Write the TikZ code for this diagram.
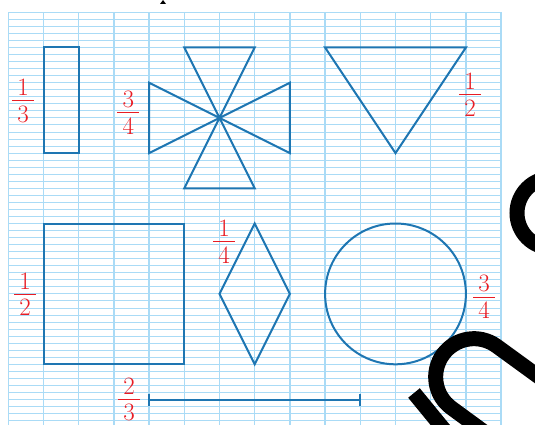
\documentclass[tikz,border=0pt]{standalone}
\definecolor{gridc}{RGB}{170,219,246}
\definecolor{shapec}{RGB}{30,118,178}
\definecolor{labc}{RGB}{232,28,36}
\newcommand\myfr[2]{\vbox{\offinterlineskip\halign{\hfil##\hfil\cr #1\cr\noalign{\vskip4.5pt}\vrule width 22pt height 1pt\cr\noalign{\vskip4.5pt} #2\cr}}}
\begin{document}
\begin{tikzpicture}[x=1pt,y=-1pt,
  shp/.style={draw=shapec, line width=2pt, line join=miter},
  fraclab/.style={text=labc, inner sep=0pt, font=\fontsize{25}{30}\selectfont},
  gridv/.style={draw=gridc, line width=1.3pt},
  gridh/.style={draw=gridc, line width=0.9pt},
  wm/.style={draw=black, line width=15pt}]
\useasboundingbox (0,0) rectangle (535,425);
\fill[white] (0,0) rectangle (535,425);
\def\xo{8.3}\def\yo{12.3}\def\u{35.2}
% grid
\foreach \j in {0,...,58} \draw[gridh] (\xo,\yo+\j*\u/5) -- (\xo+14*\u,\yo+\j*\u/5);
\foreach \k in {0,...,14} \draw[gridv] (\xo+\k*\u,\yo) -- (\xo+\k*\u,425);
% rectangle 1/3
\draw[shp] (\xo+\u,\yo+\u) rectangle (\xo+2*\u,\yo+4*\u);
\node[fraclab] (l13) at (23,100.7) {\myfr{1}{3}};
% star of triangles
\coordinate (sc) at (\xo+6*\u,\yo+3*\u);
\draw[shp] (sc) -- (\xo+5*\u,\yo+\u) -- (\xo+7*\u,\yo+\u) -- cycle;
\draw[shp] (sc) -- (\xo+5*\u,\yo+5*\u) -- (\xo+7*\u,\yo+5*\u) -- cycle;
\draw[shp] (sc) -- (\xo+4*\u,\yo+2*\u) -- (\xo+4*\u,\yo+4*\u) -- cycle;
\draw[shp] (sc) -- (\xo+8*\u,\yo+2*\u) -- (\xo+8*\u,\yo+4*\u) -- cycle;
\node[fraclab] (l34a) at (128.3,112.7) {\myfr{3}{4}};
% inverted triangle
\draw[shp] (\xo+9*\u,\yo+\u) -- (\xo+13*\u,\yo+\u) -- (\xo+11*\u,\yo+4*\u) -- cycle;
\node[fraclab] (l12a) at (470,95) {\myfr{1}{2}};
% square
\draw[shp] (\xo+\u,\yo+6*\u) rectangle (\xo+5*\u,\yo+10*\u);
\node[fraclab] (l12b) at (25,294) {\myfr{1}{2}};
% diamond
\draw[shp] (\xo+7*\u,\yo+6*\u) -- (\xo+8*\u,\yo+8*\u) -- (\xo+7*\u,\yo+10*\u) -- (\xo+6*\u,\yo+8*\u) -- cycle;
\node[fraclab] (l14) at (224,242) {\myfr{1}{4}};
% circle
\draw[shp] (\xo+11*\u,\yo+8*\u) circle[radius=2*\u];
\node[fraclab] (l34b) at (484,297) {\myfr{3}{4}};
% segment
\coordinate (sa) at (\xo+4*\u,\yo+11*\u);
\coordinate (sb) at (\xo+10*\u,\yo+11*\u);
\draw[shp] (sa) -- (sb);
\draw[shp] ([yshift=6pt]sa) -- ([yshift=-6pt]sa);
\draw[shp] ([yshift=6pt]sb) -- ([yshift=-6pt]sb);
\node[fraclab] (l23) at (129,399.3) {\myfr{2}{3}};
% watermark fragments
\begin{scope}
\clip (0,0) rectangle (535,425);
\draw[wm] (577.4,404.8) -- (496.5,346) arc[start angle=-54, end angle=-234, radius=38.3] -- (532,467);
\draw[wm] (414,393) -- (446,432);
\draw[wm] (552,213) circle[radius=35];
\fill[black] (160,4) -- (166,4) -- (163,0) -- cycle;
\end{scope}
\end{tikzpicture}
\end{document}
